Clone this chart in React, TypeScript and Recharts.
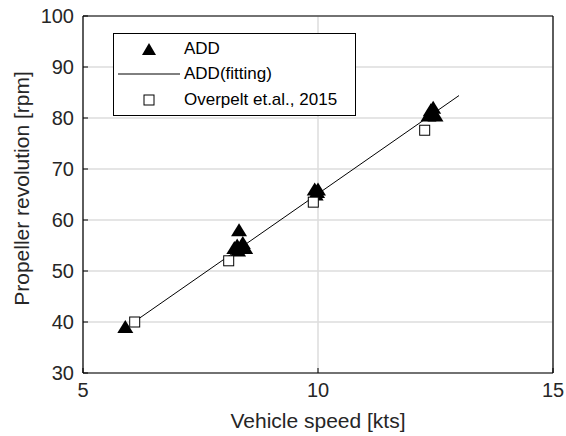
import React from 'react';
import { ScatterChart, Scatter, XAxis, YAxis, CartesianGrid } from 'recharts';

// ADD measurements
const addSpeed = [5.9, 8.22, 8.28, 8.32, 8.4, 8.45, 8.3, 9.93, 10.0, 9.95, 9.98, 12.35, 12.4, 12.45, 12.5];
const addRpm = [39, 54.5, 55, 58, 55.5, 54.5, 54, 66, 66, 65, 65.5, 80.5, 81.5, 82, 80.5];

// Overpelt et.al., 2015
const refSpeed = [6.1, 8.1, 9.9, 12.27];
const refRpm = [40, 52, 63.5, 77.6];

// linear fit of ADD
const fitSpeed = [6.1, 13.0];
const fitRpm = [40.1, 84.4];

const xTicks = [5, 10, 15];
const yTicks = [30, 40, 50, 60, 70, 80, 90, 100];

const toPoints = (xs: number[], ys: number[]) => xs.map((x, i) => ({ x, y: ys[i] }));

const addData = toPoints(addSpeed, addRpm);
const refData = toPoints(refSpeed, refRpm);
const fitData = toPoints(fitSpeed, fitRpm);

const FONT = '"Liberation Sans", Arial, sans-serif';

const Triangle = (props: any) => {
  const { cx, cy } = props;
  return <polygon points={`${cx},${cy - 7} ${cx - 8},${cy + 6} ${cx + 8},${cy + 6}`} fill="#000" />;
};

const Square = (props: any) => {
  const { cx, cy } = props;
  return <rect x={cx - 5} y={cy - 5} width={10} height={10} fill="#fff" stroke="#000" strokeWidth={1} />;
};

const NoDot = () => <g />;

const LegendBox = () => {
  const row = { display: 'flex', alignItems: 'center', height: 25.5 } as React.CSSProperties;
  const icon = { width: 70, display: 'flex', justifyContent: 'center' } as React.CSSProperties;
  return (
    <div style={{ position: 'absolute', left: 113, top: 33, border: '1px solid #000', background: '#fff', width: 241,
      padding: '2px 0', fontFamily: FONT, fontSize: 17, color: '#000', boxSizing: 'content-box' }}>
      <div style={row}>
        <div style={icon}>
          <svg width={16} height={14}><polygon points="8,1 1,13 15,13" fill="#000" /></svg>
        </div>
        <span>ADD</span>
      </div>
      <div style={row}>
        <div style={icon}>
          <svg width={62} height={4}><line x1={0} y1={2} x2={62} y2={2} stroke="#000" strokeWidth={1} /></svg>
        </div>
        <span>ADD(fitting)</span>
      </div>
      <div style={row}>
        <div style={icon}>
          <svg width={12} height={12}><rect x={1} y={1} width={10} height={10} fill="#fff" stroke="#000" /></svg>
        </div>
        <span>Overpelt et.al., 2015</span>
      </div>
    </div>
  );
};

const YTitle = (props: any) => {
  const { viewBox } = props;
  const x = viewBox.x + 21;
  const y = viewBox.y + viewBox.height / 2 - 6;
  return (
    <text x={x} y={y} transform={`rotate(-90 ${x} ${y})`} textAnchor="middle" dominantBaseline="central"
      fontFamily={FONT} fontSize={21} fill="#262626">
      Propeller revolution [rpm]
    </text>
  );
};

const XTitle = (props: any) => {
  const { viewBox } = props;
  return (
    <text x={viewBox.x + viewBox.width / 2} y={viewBox.y + 47} textAnchor="middle" dominantBaseline="central"
      fontFamily={FONT} fontSize={21} fill="#262626">
      Vehicle speed [kts]
    </text>
  );
};

const tickStyle = { fontFamily: FONT, fontSize: 20, fill: '#262626' };

export default function App() {
  return (
    <div style={{ position: 'absolute', left: 0, top: 0, width: 566, height: 436, background: '#fff' }}>
      <ScatterChart width={566} height={436} margin={{ top: 0, right: 0, bottom: 0, left: 0 }}>
        <CartesianGrid xAxisId="b" yAxisId="l" stroke="#dcdcdc" strokeWidth={1.5} />
        <XAxis xAxisId="b" dataKey="x" type="number" domain={[5, 15]} ticks={xTicks} height={63}
          allowDataOverflow axisLine={{ stroke: '#000', strokeWidth: 1.2 }} tickLine={{ stroke: '#000' }}
          tickSize={-5} tickMargin={15} tick={tickStyle} label={<XTitle />} />
        <XAxis xAxisId="t" orientation="top" dataKey="x" type="number" domain={[5, 15]} ticks={xTicks} height={16}
          axisLine={{ stroke: '#000', strokeWidth: 1.2 }} tickLine={{ stroke: '#000' }} tickSize={-5}
          tickFormatter={() => ''} />
        <YAxis yAxisId="l" dataKey="y" type="number" domain={[30, 100]} ticks={yTicks} width={83}
          allowDataOverflow axisLine={{ stroke: '#000', strokeWidth: 1.2 }} tickLine={{ stroke: '#000' }}
          tickSize={-5} tickMargin={14} tick={tickStyle} label={<YTitle />} />
        <YAxis yAxisId="r" orientation="right" dataKey="y" type="number" domain={[30, 100]} ticks={yTicks} width={13}
          axisLine={{ stroke: '#000', strokeWidth: 1.2 }} tickLine={{ stroke: '#000' }} tickSize={-5}
          tickFormatter={() => ''} />
        <Scatter name="ADD(fitting)" data={fitData} xAxisId="b" yAxisId="l" line={{ stroke: '#000', strokeWidth: 1 }}
          shape={<NoDot />} isAnimationActive={false} />
        <Scatter name="ADD" data={addData} xAxisId="b" yAxisId="l" shape={<Triangle />} isAnimationActive={false} />
        <Scatter name="Overpelt et.al., 2015" data={refData} xAxisId="b" yAxisId="l" shape={<Square />}
          isAnimationActive={false} />
      </ScatterChart>
      <LegendBox />
    </div>
  );
}
